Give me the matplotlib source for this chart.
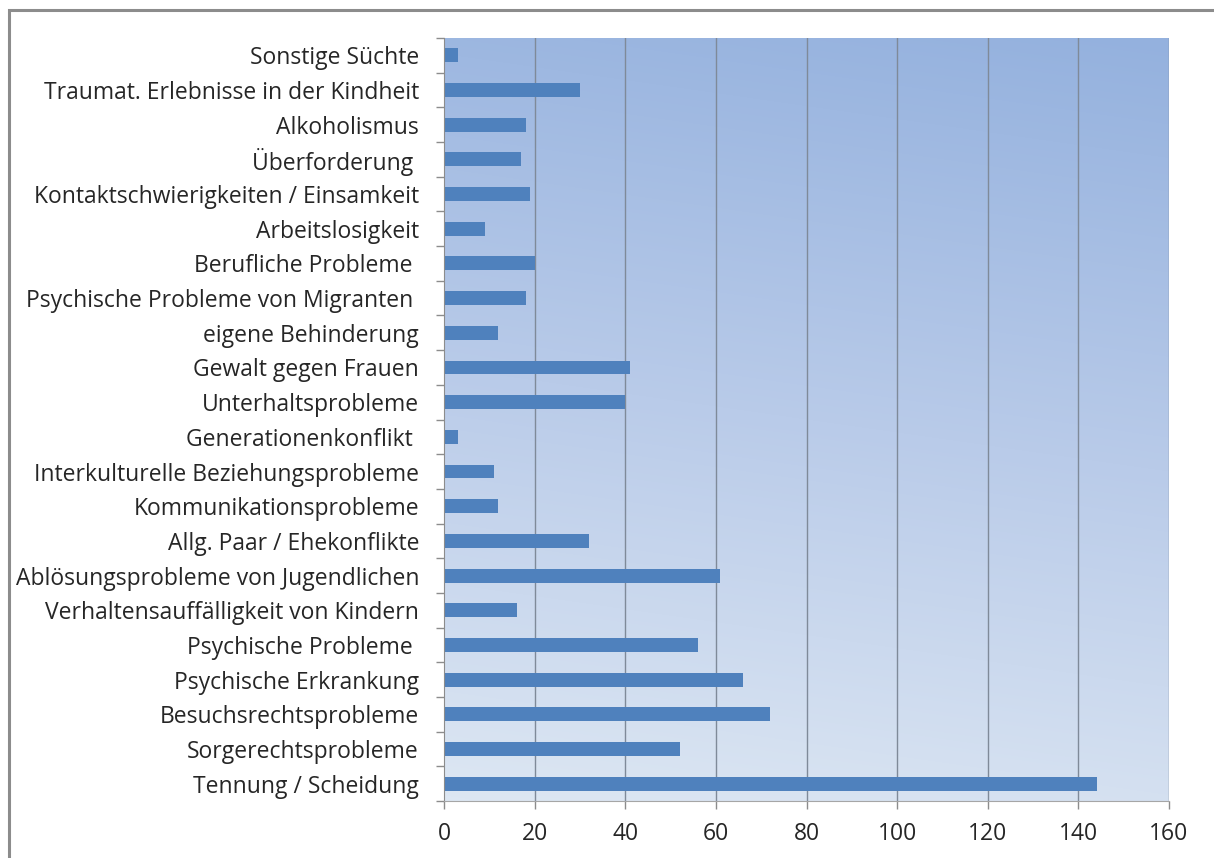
import numpy as np
import matplotlib
matplotlib.use("Agg")
import matplotlib.pyplot as plt
from matplotlib.patches import Rectangle
from matplotlib.colors import LinearSegmentedColormap

# Categories listed bottom to top
categories = [
    "Tennung / Scheidung",
    "Sorgerechtsprobleme",
    "Besuchsrechtsprobleme",
    "Psychische Erkrankung",
    "Psychische Probleme ",
    "Verhaltensauffälligkeit von Kindern",
    "Ablösungsprobleme von Jugendlichen",
    "Allg. Paar / Ehekonflikte",
    "Kommunikationsprobleme",
    "Interkulturelle Beziehungsprobleme",
    "Generationenkonflikt ",
    "Unterhaltsprobleme",
    "Gewalt gegen Frauen",
    "eigene Behinderung",
    "Psychische Probleme von Migranten ",
    "Berufliche Probleme ",
    "Arbeitslosigkeit",
    "Kontaktschwierigkeiten / Einsamkeit",
    "Überforderung ",
    "Alkoholismus",
    "Traumat. Erlebnisse in der Kindheit",
    "Sonstige Süchte",
]
counts = [144, 52, 72, 66, 56, 16, 61, 32, 12, 11, 3, 40, 41, 12, 18, 20, 9, 19, 17, 18, 30, 3]
x_ticks = [0, 20, 40, 60, 80, 100, 120, 140, 160]

plt.rcParams['font.family'] = ['Open Sans', 'DejaVu Sans']

W, H = 1214, 858
fig = plt.figure(figsize=(W / 100, H / 100), dpi=100)
fig.patch.set_facecolor("white")

# chart frame (runs off the right and bottom edges)
fig.patches.append(Rectangle((9 / W, -0.1), 1.2, 1.1 - 10 / H,
                             transform=fig.transFigure, fill=False,
                             edgecolor="#8c8c8c", linewidth=2.2, zorder=0))

left, right, top, bottom = 444, 1169, 38, 801
ax = fig.add_axes([left / W, 1 - bottom / H, (right - left) / W, (bottom - top) / H])

n = len(categories)
ax.set_xlim(0, 160)
ax.set_ylim(-0.5, n - 0.5)

# gradient plot-area fill: darker blue at the top, pale at the bottom
cmap = LinearSegmentedColormap.from_list("bg", ["#dde7f3", "#b9cbe9", "#94b1de"])
yy, xx = np.mgrid[0:1:200j, 0:1:200j]
grad = 0.88 * yy + 0.12 * xx
ax.imshow(grad, extent=(0, 160, -0.5, n - 0.5), origin="lower", aspect="auto",
          cmap=cmap, vmin=0, vmax=1, zorder=0, interpolation="bilinear")

ax.barh(np.arange(n), counts, height=0.4, color="#4f81bd", zorder=3)

for xv in x_ticks[1:]:
    ax.axvline(xv, color="#7f8a99", linewidth=1.0, zorder=2)

ax.set_xticks(x_ticks)
ax.set_xticklabels([str(v) for v in x_ticks])
ax.set_yticks(np.arange(n))
ax.set_yticklabels(categories)
ax.set_yticks(np.arange(n + 1) - 0.5, minor=True)

ax.tick_params(axis="y", which="major", length=0, pad=18, labelsize=16.5, labelcolor="#262626")
ax.tick_params(axis="y", which="minor", length=6, color="#8c8c8c", width=1)
ax.tick_params(axis="x", which="major", length=6, color="#8c8c8c", width=1,
               labelsize=16.5, labelcolor="#262626", pad=9)

for s in ["top", "right"]:
    ax.spines[s].set_visible(False)
ax.spines["left"].set_color("#8c8c8c")
ax.spines["bottom"].set_color("#a6a6a6")
ax.spines["left"].set_zorder(4)
ax.spines["bottom"].set_zorder(4)

fig.savefig("out.png", dpi=100, facecolor="white")
